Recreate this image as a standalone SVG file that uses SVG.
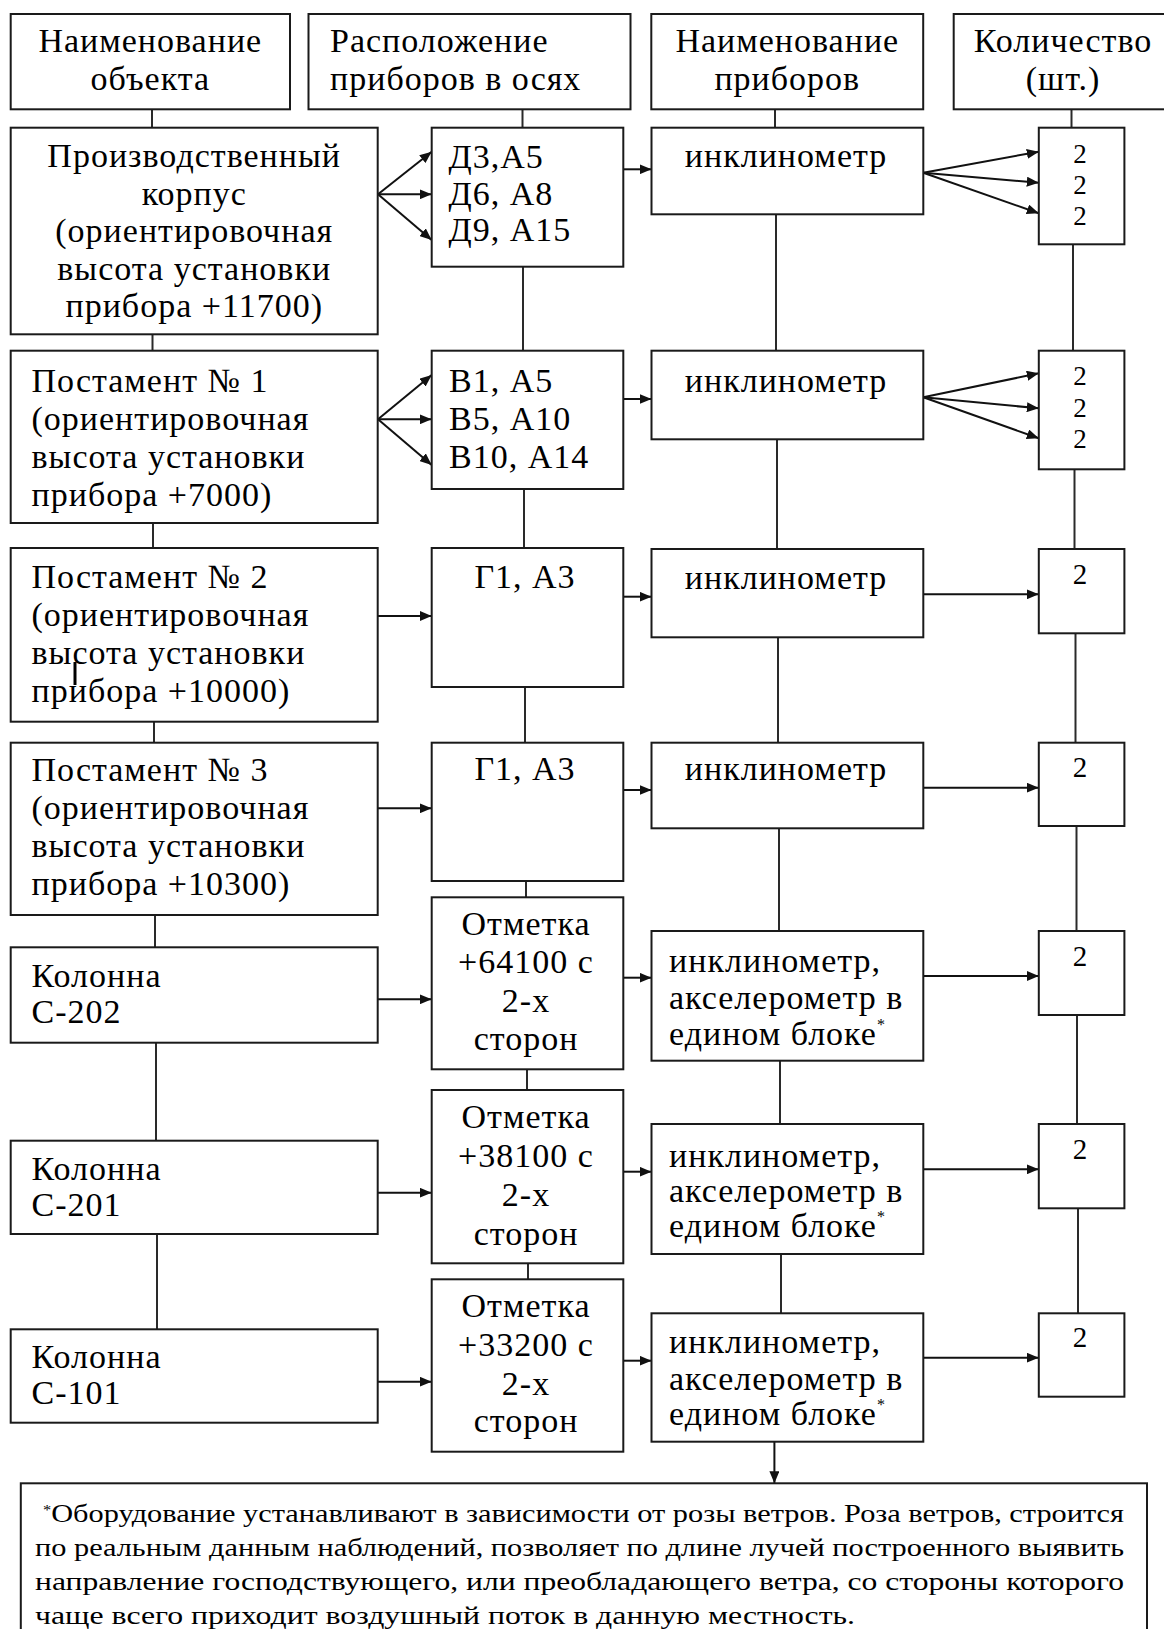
<svg xmlns="http://www.w3.org/2000/svg" width="1164" height="1629" viewBox="0 0 1164 1629">
<defs>
<style>
.box{fill:#fff;stroke:#1a1a1a;stroke-width:2}
.t{font-family:"Liberation Serif","Times New Roman",serif;font-size:34px;letter-spacing:1px;fill:#000}
.m{text-anchor:middle}
.n{font-size:29px;letter-spacing:0}
.s{font-size:27px;letter-spacing:0}
.fn{font-family:"Liberation Serif","Times New Roman",serif;font-size:26px;fill:#000}
.ln{stroke:#2a2a2a;stroke-width:2;fill:none}
.ar{stroke:#111;stroke-width:2;fill:none;marker-end:url(#ah)}
</style>
<marker id="ah" markerUnits="userSpaceOnUse" viewBox="0 0 12 10" refX="12" refY="5" markerWidth="12" markerHeight="10" orient="auto">
<path d="M0,0 L12,5 L0,10 z" fill="#111"/>
</marker>
</defs>
<rect width="1164" height="1629" fill="#fff"/>

<g id="connectors">
<line class="ln" x1="152" y1="109" x2="152" y2="128"/>
<line class="ln" x1="152.5" y1="334" x2="152.5" y2="351"/>
<line class="ln" x1="153" y1="523" x2="153" y2="548"/>
<line class="ln" x1="154" y1="722" x2="154" y2="743"/>
<line class="ln" x1="155" y1="915" x2="155" y2="947"/>
<line class="ln" x1="156" y1="1043" x2="156" y2="1141"/>
<line class="ln" x1="157" y1="1234" x2="157" y2="1329"/>

<line class="ln" x1="522.5" y1="109" x2="522.5" y2="128"/>
<line class="ln" x1="523" y1="267" x2="523" y2="351"/>
<line class="ln" x1="524" y1="489" x2="524" y2="548"/>
<line class="ln" x1="525" y1="687" x2="525" y2="743"/>
<line class="ln" x1="526" y1="881" x2="526" y2="897"/>
<line class="ln" x1="527" y1="1069" x2="527" y2="1090"/>
<line class="ln" x1="528" y1="1263" x2="528" y2="1279"/>

<line class="ln" x1="775" y1="109" x2="775" y2="128"/>
<line class="ln" x1="776" y1="214" x2="776" y2="351"/>
<line class="ln" x1="777" y1="439" x2="777" y2="549"/>
<line class="ln" x1="778" y1="637" x2="778" y2="743"/>
<line class="ln" x1="779" y1="828" x2="779" y2="931"/>
<line class="ln" x1="780" y1="1061" x2="780" y2="1124"/>
<line class="ln" x1="781" y1="1254" x2="781" y2="1313"/>

<line class="ln" x1="1071.5" y1="109" x2="1071.5" y2="128"/>
<line class="ln" x1="1073" y1="244" x2="1073" y2="351"/>
<line class="ln" x1="1074.5" y1="469" x2="1074.5" y2="549"/>
<line class="ln" x1="1075.5" y1="633" x2="1075.5" y2="743"/>
<line class="ln" x1="1076.5" y1="826" x2="1076.5" y2="931"/>
<line class="ln" x1="1077" y1="1015" x2="1077" y2="1124"/>
<line class="ln" x1="1078" y1="1208" x2="1078" y2="1313"/>

<line class="ar" x1="378" y1="194.3" x2="431.7" y2="151.7"/>
<line class="ar" x1="378" y1="194.3" x2="431.7" y2="194.3"/>
<line class="ar" x1="378" y1="194.3" x2="431.7" y2="240"/>
<line class="ar" x1="378" y1="419.3" x2="431.7" y2="375"/>
<line class="ar" x1="378" y1="419.3" x2="431.7" y2="419.3"/>
<line class="ar" x1="378" y1="419.3" x2="431.7" y2="465"/>
<line class="ar" x1="378" y1="616" x2="431.7" y2="616"/>
<line class="ar" x1="378" y1="808.3" x2="431.7" y2="808.3"/>
<line class="ar" x1="378" y1="999.3" x2="431.7" y2="999.3"/>
<line class="ar" x1="378" y1="1192.7" x2="431.7" y2="1192.7"/>
<line class="ar" x1="378" y1="1381.7" x2="431.7" y2="1381.7"/>

<line class="ar" x1="623.3" y1="169.3" x2="651.5" y2="169.3"/>
<line class="ar" x1="623.3" y1="399" x2="651.5" y2="399"/>
<line class="ar" x1="623.3" y1="596.7" x2="651.5" y2="596.7"/>
<line class="ar" x1="623.3" y1="790" x2="651.5" y2="790"/>
<line class="ar" x1="623.3" y1="977.7" x2="651.5" y2="977.7"/>
<line class="ar" x1="623.3" y1="1171.7" x2="651.5" y2="1171.7"/>
<line class="ar" x1="623.3" y1="1360.7" x2="651.5" y2="1360.7"/>

<line class="ar" x1="923.3" y1="172.7" x2="1038.8" y2="151.7"/>
<line class="ar" x1="923.3" y1="172.7" x2="1038.8" y2="182.7"/>
<line class="ar" x1="923.3" y1="172.7" x2="1038.8" y2="213.3"/>
<line class="ar" x1="923.3" y1="397.3" x2="1038.8" y2="373.3"/>
<line class="ar" x1="923.3" y1="397.3" x2="1038.8" y2="408.3"/>
<line class="ar" x1="923.3" y1="397.3" x2="1038.8" y2="438.3"/>
<line class="ar" x1="923.3" y1="594.3" x2="1038.8" y2="594.3"/>
<line class="ar" x1="923.3" y1="787.7" x2="1038.8" y2="787.7"/>
<line class="ar" x1="923.3" y1="976" x2="1038.8" y2="976"/>
<line class="ar" x1="923.3" y1="1169.3" x2="1038.8" y2="1169.3"/>
<line class="ar" x1="923.3" y1="1357.7" x2="1038.8" y2="1357.7"/>

<line class="ar" x1="774.4" y1="1442" x2="774.4" y2="1483.3"/>
</g>

<g id="h1"><rect class="box" x="10.7" y="14" width="279.3" height="95.3"/>
<text class="t m" x="150.3" y="52">Наименование</text><text class="t m" x="150.3" y="90">объекта</text></g>
<g id="h2"><rect class="box" x="308.5" y="14" width="322" height="95.3"/>
<text class="t" x="330" y="52">Расположение</text><text class="t" x="330" y="90">приборов в осях</text></g>
<g id="h3"><rect class="box" x="651.3" y="14" width="271.9" height="95.3"/>
<text class="t m" x="787.3" y="52">Наименование</text><text class="t m" x="787.3" y="90">приборов</text></g>
<g id="h4"><rect class="box" x="953.7" y="14" width="220" height="95.3"/>
<text class="t m" x="1063" y="52">Количество</text><text class="t m" x="1063" y="90">(шт.)</text></g>

<g id="a1"><rect class="box" x="10.7" y="127.7" width="367" height="206.6"/>
<text class="t m" x="194.2" y="167">Производственный</text>
<text class="t m" x="194.2" y="204.5">корпус</text>
<text class="t m" x="194.2" y="242">(ориентировочная</text>
<text class="t m" x="194.2" y="279.5">высота установки</text>
<text class="t m" x="194.2" y="317">прибора +11700)</text></g>
<g id="a2"><rect class="box" x="10.7" y="350.7" width="367" height="172.3"/>
<text class="t" x="31.5" y="392">Постамент № 1</text>
<text class="t" x="31.5" y="430">(ориентировочная</text>
<text class="t" x="31.5" y="468">высота установки</text>
<text class="t" x="31.5" y="506">прибора +7000)</text></g>
<g id="a3"><rect class="box" x="10.7" y="548" width="367" height="173.7"/>
<text class="t" x="31.5" y="588">Постамент № 2</text>
<text class="t" x="31.5" y="626">(ориентировочная</text>
<text class="t" x="31.5" y="664">высота установки</text>
<text class="t" x="31.5" y="702">прибора +10000)</text>
<line x1="75" y1="662" x2="75" y2="685" stroke="#000" stroke-width="3"/></g>
<g id="a4"><rect class="box" x="10.7" y="742.7" width="367" height="172.3"/>
<text class="t" x="31.5" y="781">Постамент № 3</text>
<text class="t" x="31.5" y="819">(ориентировочная</text>
<text class="t" x="31.5" y="857">высота установки</text>
<text class="t" x="31.5" y="895">прибора +10300)</text></g>
<g id="a5"><rect class="box" x="10.7" y="947.3" width="367" height="95.4"/>
<text class="t" x="31.5" y="987">Колонна</text><text class="t" x="31.5" y="1023">С-202</text></g>
<g id="a6"><rect class="box" x="10.7" y="1140.7" width="367" height="93.3"/>
<text class="t" x="31.5" y="1180">Колонна</text><text class="t" x="31.5" y="1216">С-201</text></g>
<g id="a7"><rect class="box" x="10.7" y="1329.3" width="367" height="93.4"/>
<text class="t" x="31.5" y="1368">Колонна</text><text class="t" x="31.5" y="1404">С-101</text></g>

<g id="b1"><rect class="box" x="431.7" y="127.7" width="191.6" height="139"/>
<text class="t" x="448.5" y="168">Д3,А5</text><text class="t" x="448.5" y="205">Д6, А8</text><text class="t" x="448.5" y="241">Д9, А15</text></g>
<g id="b2"><rect class="box" x="431.7" y="350.7" width="191.6" height="138.3"/>
<text class="t" x="449" y="392">В1, А5</text><text class="t" x="449" y="430">В5, А10</text><text class="t" x="449" y="468">В10, А14</text></g>
<g id="b3"><rect class="box" x="431.7" y="548" width="191.6" height="139"/>
<text class="t m" x="525" y="588">Г1, А3</text></g>
<g id="b4"><rect class="box" x="431.7" y="742.7" width="191.6" height="138.3"/>
<text class="t m" x="525" y="780">Г1, А3</text></g>
<g id="b5"><rect class="box" x="431.7" y="897.3" width="191.6" height="172"/>
<text class="t m" x="526" y="935">Отметка</text><text class="t m" x="526" y="973">+64100 с</text><text class="t m" x="526" y="1012">2-х</text><text class="t m" x="526" y="1050">сторон</text></g>
<g id="b6"><rect class="box" x="431.7" y="1090" width="191.6" height="173.3"/>
<text class="t m" x="526" y="1128">Отметка</text><text class="t m" x="526" y="1167">+38100 с</text><text class="t m" x="526" y="1206">2-х</text><text class="t m" x="526" y="1245">сторон</text></g>
<g id="b7"><rect class="box" x="431.7" y="1279.3" width="191.6" height="172.4"/>
<text class="t m" x="526" y="1317">Отметка</text><text class="t m" x="526" y="1356">+33200 с</text><text class="t m" x="526" y="1395">2-х</text><text class="t m" x="526" y="1432">сторон</text></g>

<g id="c1"><rect class="box" x="651.5" y="127.7" width="271.8" height="86.6"/>
<text class="t m" x="786" y="167">инклинометр</text></g>
<g id="c2"><rect class="box" x="651.5" y="350.7" width="271.8" height="88.6"/>
<text class="t m" x="786" y="392">инклинометр</text></g>
<g id="c3"><rect class="box" x="651.5" y="549" width="271.8" height="88.3"/>
<text class="t m" x="786" y="589">инклинометр</text></g>
<g id="c4"><rect class="box" x="651.5" y="742.7" width="271.8" height="85.6"/>
<text class="t m" x="786" y="780">инклинометр</text></g>
<g id="c5"><rect class="box" x="651.5" y="931" width="271.8" height="129.7"/>
<text class="t" x="669" y="972">инклинометр,</text><text class="t" x="669" y="1009">акселерометр в</text><text class="t" x="669" y="1045">едином блоке<tspan font-size="16" dy="-15">*</tspan></text></g>
<g id="c6"><rect class="box" x="651.5" y="1124" width="271.8" height="130"/>
<text class="t" x="669" y="1167">инклинометр,</text><text class="t" x="669" y="1202">акселерометр в</text><text class="t" x="669" y="1237">едином блоке<tspan font-size="16" dy="-15">*</tspan></text></g>
<g id="c7"><rect class="box" x="651.5" y="1313.3" width="271.8" height="128.4"/>
<text class="t" x="669" y="1353">инклинометр,</text><text class="t" x="669" y="1390">акселерометр в</text><text class="t" x="669" y="1425">едином блоке<tspan font-size="16" dy="-15">*</tspan></text></g>

<g id="d1"><rect class="box" x="1038.8" y="127.7" width="85.6" height="116.6"/>
<text class="t m s" x="1080" y="163">2</text><text class="t m s" x="1080" y="194">2</text><text class="t m s" x="1080" y="225">2</text></g>
<g id="d2"><rect class="box" x="1038.8" y="350.7" width="85.6" height="118.6"/>
<text class="t m s" x="1080" y="385">2</text><text class="t m s" x="1080" y="416.5">2</text><text class="t m s" x="1080" y="448">2</text></g>
<g id="d3"><rect class="box" x="1038.8" y="549" width="85.6" height="84.3"/>
<text class="t m n" x="1080" y="584">2</text></g>
<g id="d4"><rect class="box" x="1038.8" y="742.7" width="85.6" height="83.3"/>
<text class="t m n" x="1080" y="777">2</text></g>
<g id="d5"><rect class="box" x="1038.8" y="931" width="85.6" height="84"/>
<text class="t m n" x="1080" y="966">2</text></g>
<g id="d6"><rect class="box" x="1038.8" y="1124" width="85.6" height="84.3"/>
<text class="t m n" x="1080" y="1159">2</text></g>
<g id="d7"><rect class="box" x="1038.8" y="1313.3" width="85.6" height="83.4"/>
<text class="t m n" x="1080" y="1347">2</text></g>

<g id="footnote"><rect class="box" x="20.8" y="1483.3" width="1126.2" height="160"/>
<text class="fn" x="43" y="1522" textLength="1081" lengthAdjust="spacingAndGlyphs"><tspan font-size="14" dy="-7">*</tspan><tspan dy="7">Оборудование устанавливают в зависимости от розы ветров. Роза ветров, строится</tspan></text>
<text class="fn" x="35" y="1556" textLength="1089" lengthAdjust="spacingAndGlyphs">по реальным данным наблюдений, позволяет по длине лучей построенного выявить</text>
<text class="fn" x="35" y="1590" textLength="1089" lengthAdjust="spacingAndGlyphs">направление господствующего, или преобладающего ветра, со стороны которого</text>
<text class="fn" x="35" y="1624" textLength="820" lengthAdjust="spacingAndGlyphs">чаще всего приходит воздушный поток в данную местность.</text></g>
</svg>
